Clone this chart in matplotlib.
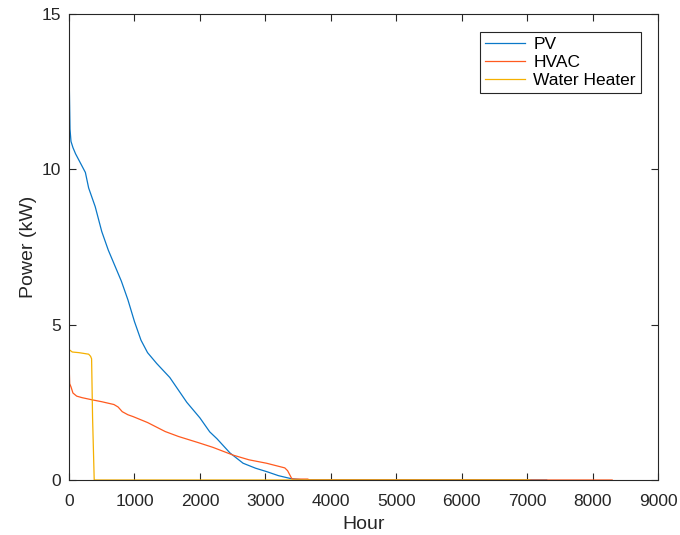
import numpy as np
from matplotlib import pyplot as plt

plt.rcParams['font.family'] = ['Liberation Sans', 'DejaVu Sans']

# duration curves (hour, kW)
pv_hour = [0, 5, 15, 30, 60, 100, 150, 200, 250, 300, 350, 400, 450, 500, 600, 700, 800,
           900, 1000, 1100, 1200, 1340, 1540, 1800, 2000, 2100, 2150, 2260, 2460, 2660,
           2850, 3020, 3200, 3400, 3600, 7300]
pv_kw = [14.2, 12.6, 11.3, 10.9, 10.7, 10.5, 10.3, 10.1, 9.9, 9.4, 9.1, 8.8, 8.4, 8.0,
         7.4, 6.9, 6.4, 5.8, 5.1, 4.5, 4.1, 3.75, 3.3, 2.5, 2.0, 1.7, 1.55, 1.33, 0.87,
         0.54, 0.38, 0.27, 0.14, 0.04, 0.0, 0.0]

hvac_hour = [0, 10, 30, 60, 117, 200, 355, 500, 686, 750, 813, 900, 980, 1200, 1470,
             1674, 1980, 2200, 2509, 2750, 3018, 3297, 3340, 3400, 3420, 3650, 3670, 8300]
hvac_kw = [3.8, 3.1, 3.0, 2.8, 2.7, 2.65, 2.58, 2.52, 2.43, 2.35, 2.2, 2.1, 2.04, 1.85,
           1.56, 1.4, 1.2, 1.05, 0.8, 0.65, 0.54, 0.39, 0.3, 0.06, 0.03, 0.03, 0.0, 0.0]

wh_hour = [0, 50, 150, 300, 330, 345, 360, 385, 7040]
wh_kw = [4.2, 4.12, 4.1, 4.05, 3.98, 3.9, 2.0, 0.0, 0.0]

labels = ['PV', 'HVAC', 'Water Heater']
colors = ['#0A78C8', '#FF5A1F', '#F5B000']
text_c = '#262626'

fig = plt.figure(figsize=(6.8, 5.35), dpi=100)
ax = fig.add_axes([0.1015, 0.1028, 0.8661, 0.871])

ax.plot(pv_hour, pv_kw, color=colors[0], lw=0.9, label=labels[0])
ax.plot(hvac_hour, hvac_kw, color=colors[1], lw=0.9, label=labels[1])
ax.plot(wh_hour, wh_kw, color=colors[2], lw=0.9, label=labels[2])

ax.set_xlim(0, 9000)
ax.set_ylim(0, 15)
ax.set_xticks(np.arange(0, 9001, 1000))
ax.set_yticks([0, 5, 10, 15])
ax.tick_params(direction='in', top=True, right=True, labelsize=12.5,
               colors=text_c, length=5, width=0.8, pad=6)
ax.tick_params(axis='x', pad=10)
for s in ax.spines.values():
    s.set_linewidth(0.8)
    s.set_color(text_c)

ax.set_xlabel('Hour', fontsize=14, color=text_c, labelpad=5)
ax.set_ylabel('Power (kW)', fontsize=14, color=text_c, labelpad=3)

leg = ax.legend(loc='upper right', bbox_to_anchor=(0.971, 0.962), fontsize=12.5,
                fancybox=False, framealpha=1, edgecolor=text_c, handlelength=2.3,
                handletextpad=0.45, borderpad=0.3, labelspacing=0.15, borderaxespad=0)
leg.get_frame().set_linewidth(0.8)

fig.savefig('out.png', dpi=100)
